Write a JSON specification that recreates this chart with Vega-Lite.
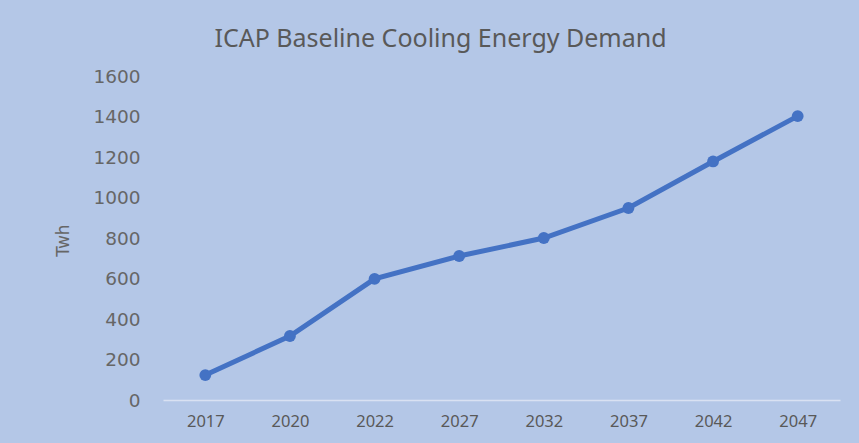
{
  "$schema": "https://vega.github.io/schema/vega-lite/v6.json",
  "autosize": {"type": "none"},
  "width": 677,
  "height": 324,
  "padding": {"left": 163, "top": 76, "right": 19, "bottom": 43},
  "background": "#B4C7E7",
  "config": {
    "view": {"stroke": null},
    "font": "Noto Sans"
  },
  "title": {
    "text": "ICAP Baseline Cooling Energy Demand",
    "fontSize": 25,
    "fontWeight": "normal",
    "color": "#595959",
    "font": "Noto Sans",
    "anchor": "middle",
    "dx": -61,
    "dy": 33,
    "baseline": "alphabetic",
    "offset": 28
  },
  "data": {
    "values": [
      {"year": "2017", "twh": 123},
      {"year": "2020", "twh": 316},
      {"year": "2022", "twh": 598},
      {"year": "2027", "twh": 711},
      {"year": "2032", "twh": 800},
      {"year": "2037", "twh": 948},
      {"year": "2042", "twh": 1178},
      {"year": "2047", "twh": 1402}
    ]
  },
  "mark": {"type": "line", "color": "#4472C4", "strokeWidth": 5, "point": {"filled": true, "size": 140, "color": "#4472C4", "opacity": 1}},
  "encoding": {
    "x": {
      "field": "year",
      "type": "ordinal",
      "sort": null,
      "scale": {"type": "point", "padding": 0.5},
      "axis": {
        "title": null,
        "labelAngle": 0,
        "labelFontSize": 16.5,
        "labelColor": "#595959",
        "labelPadding": 13,
        "ticks": false,
        "domainColor": "#D9E1F2",
        "domainWidth": 1.5,
        "grid": false
      }
    },
    "y": {
      "field": "twh",
      "type": "quantitative",
      "scale": {"domain": [0, 1600], "nice": false},
      "axis": {
        "title": "Twh",
        "titleFont": "DejaVu Sans",
        "titleFontSize": 17,
        "titleFontWeight": "normal",
        "titleColor": "#666666",
        "titleX": -100,
        "titleY": 164,
        "titleAngle": -90,
        "titleAlign": "center",
        "titleBaseline": "middle",
        "values": [0, 200, 400, 600, 800, 1000, 1200, 1400, 1600],
        "format": "d",
        "labelFont": "DejaVu Sans",
        "labelFontSize": 18.5,
        "labelColor": "#666666",
        "labelPadding": 23,
        "ticks": false,
        "domain": false,
        "grid": false
      }
    }
  }
}
